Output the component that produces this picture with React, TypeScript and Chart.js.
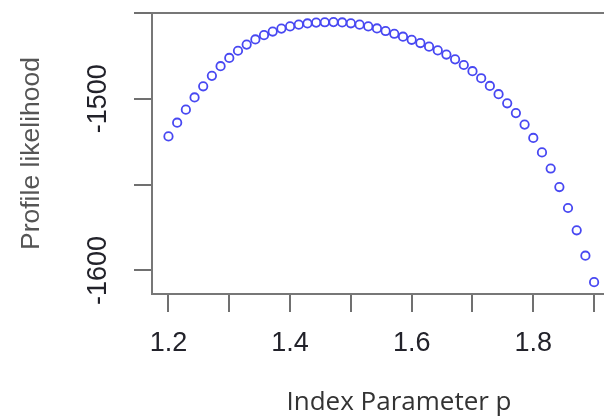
import React, { useEffect, useRef } from "react";
import { Chart, registerables } from "chart.js";

Chart.register(...registerables);

const pValues = [
  1.2, 1.2143, 1.2286, 1.2429, 1.2571, 1.2714, 1.2857, 1.3, 1.3143, 1.3286,
  1.3429, 1.3571, 1.3714, 1.3857, 1.4, 1.4143, 1.4286, 1.4429, 1.4571, 1.4714,
  1.4857, 1.5, 1.5143, 1.5286, 1.5429, 1.5571, 1.5714, 1.5857, 1.6, 1.6143,
  1.6286, 1.6429, 1.6571, 1.6714, 1.6857, 1.7, 1.7143, 1.7286, 1.7429, 1.7571,
  1.7714, 1.7857, 1.8, 1.8143, 1.8286, 1.8429, 1.8571, 1.8714, 1.8857, 1.9,
];

const likelihood = [
  -1521.9, -1513.9, -1506.3, -1499.2, -1492.7, -1486.6, -1481.0, -1476.2, -1472.0, -1468.4,
  -1465.4, -1462.9, -1460.8, -1459.1, -1457.8, -1456.8, -1456.1, -1455.6, -1455.4, -1455.3,
  -1455.5, -1456.0, -1456.8, -1457.8, -1459.0, -1460.5, -1462.1, -1463.8, -1465.6, -1467.5,
  -1469.6, -1471.8, -1474.2, -1477.0, -1480.3, -1483.9, -1488.0, -1492.5, -1497.3, -1502.6,
  -1508.3, -1515.0, -1522.8, -1531.2, -1540.6, -1551.4, -1563.6, -1576.6, -1591.4, -1606.8,
];

const xTicks = [1.2, 1.3, 1.4, 1.5, 1.6, 1.7, 1.8, 1.9];
const xTickLabels = ["1.2", "", "1.4", "", "1.6", "", "1.8", ""];
const yTicks = [-1600, -1550, -1500, -1450];
const yTickLabels = ["-1600", "", "-1500", ""];

const xMin = 1.1729;
const xMax = 1.9163;
const yMin = -1613.7;
const yMax = -1450;

const xTitle = "Index Parameter p";
const yTitle = "Profile likelihood";

export default function App() {
  const ref = useRef<HTMLCanvasElement | null>(null);

  useEffect(() => {
    if (!ref.current) return;
    const frame = {
      id: "frame",
      afterDraw(chart: any) {
        const { ctx, chartArea } = chart;
        ctx.save();
        ctx.strokeStyle = "#777777";
        ctx.lineWidth = 2;
        ctx.beginPath();
        ctx.moveTo(chartArea.left - 1, chartArea.top);
        ctx.lineTo(chartArea.right, chartArea.top);
        ctx.stroke();
        ctx.fillStyle = "#333333";
        ctx.font = '26px "Open Sans"';
        ctx.textAlign = "center";
        ctx.textBaseline = "alphabetic";
        ctx.fillText(xTitle, 399, 410);
        ctx.restore();
      },
    };
    const chart = new Chart(ref.current, {
      type: "scatter",
      data: {
        datasets: [
          {
            data: pValues.map((p, i) => ({ x: p, y: likelihood[i] })),
            borderColor: "#4848f2",
            backgroundColor: "rgba(0,0,0,0)",
            borderWidth: 1.8,
            pointRadius: 4.2,
            pointStyle: "circle",
            showLine: false,
          },
        ],
      },
      options: {
        responsive: false,
        animation: false,
        devicePixelRatio: 1,
        layout: { autoPadding: false, padding: { top: 13, right: 0, left: 0, bottom: 0 } },
        plugins: {
          legend: { display: false },
          tooltip: { enabled: false },
        },
        scales: {
          x: {
            type: "linear",
            min: xMin,
            max: xMax,
            afterFit: (s: any) => {
              s.height = 125;
              s.paddingLeft = 0;
              s.paddingRight = 0;
            },
            afterBuildTicks: (s: any) => {
              s.ticks = xTicks.map((v) => ({ value: v }));
            },
            ticks: {
              autoSkip: false,
              maxRotation: 0,
              minRotation: 0,
              padding: 15,
              color: "#22222a",
              font: { family: '"Liberation Sans", Arial, sans-serif', size: 27 },
              callback: (v: any) => {
                const i = xTicks.findIndex((t) => Math.abs(t - Number(v)) < 1e-6);
                return i >= 0 ? xTickLabels[i] : "";
              },
            },
            grid: {
              drawOnChartArea: false,
              drawTicks: true,
              tickLength: 18,
              tickColor: "#707070",
              tickWidth: 2,
              color: "#707070",
              lineWidth: 2,
            },
            border: { display: true, color: "#777777", width: 2 },
          },
          y: {
            type: "linear",
            min: yMin,
            max: yMax,
            afterFit: (s: any) => {
              s.width = 152;
              s.paddingTop = 0;
              s.paddingBottom = 0;
            },
            afterBuildTicks: (s: any) => {
              s.ticks = yTicks.map((v) => ({ value: v }));
            },
            ticks: {
              autoSkip: false,
              minRotation: 90,
              maxRotation: 90,
              crossAlign: "center",
              padding: 1,
              color: "#22222a",
              font: { family: '"Liberation Sans", Arial, sans-serif', size: 27 },
              callback: (v: any) => {
                const i = yTicks.findIndex((t) => Math.abs(t - Number(v)) < 1e-6);
                return i >= 0 ? yTickLabels[i] : "";
              },
            },
            grid: {
              drawOnChartArea: false,
              drawTicks: true,
              tickLength: 18,
              tickColor: "#707070",
              tickWidth: 2,
              color: "#707070",
              lineWidth: 2,
            },
            border: { display: true, color: "#777777", width: 2 },
            title: {
              display: true,
              text: yTitle,
              color: "#555555",
              font: { family: '"Liberation Sans", Arial, sans-serif', size: 26.5 },
              padding: { top: 16, bottom: 0 },
            },
          },
        },
      },
      plugins: [frame],
    });
    return () => chart.destroy();
  }, []);

  return (
    <div style={{ position: "absolute", left: 0, top: 0, width: 604, height: 419, background: "#ffffff" }}>
      <canvas ref={ref} width={604} height={419} style={{ display: "block" }} />
    </div>
  );
}
